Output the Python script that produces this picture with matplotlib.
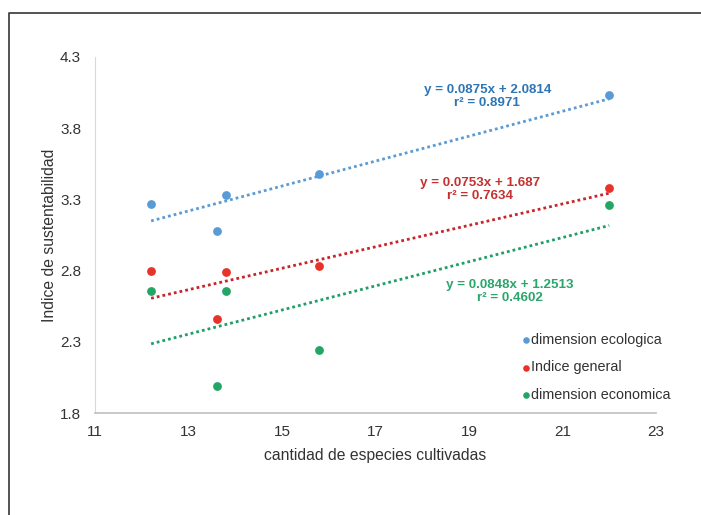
import matplotlib

matplotlib.use("Agg")
import matplotlib.pyplot as plt
from matplotlib.lines import Line2D

plt.rcParams["font.family"] = ["Liberation Sans", "DejaVu Sans"]

# data
especies = [12.2, 13.6, 13.8, 15.8, 22.0]
dim_ecologica = [3.27, 3.08, 3.33, 3.48, 4.03]
indice_general = [2.80, 2.46, 2.79, 2.83, 3.38]
dim_economica = [2.66, 1.99, 2.66, 2.24, 3.26]

series_names = ["dimension ecologica", "Indice general", "dimension economica"]
pendientes = [0.0875, 0.0753, 0.0848]
intercepts = [2.0814, 1.687, 1.2513]
r2_values = ["0.8971", "0.7634", "0.4602"]
eq_labels = ["y = 0.0875x + 2.0814", "y = 0.0753x + 1.687", "y = 0.0848x + 1.2513"]
eq_pos = [(19.39, 4.02), (19.24, 3.367), (19.88, 2.652)]

x_ticks = [11, 13, 15, 17, 19, 21, 23]
y_ticks = [1.8, 2.3, 2.8, 3.3, 3.8, 4.3]

marker_colors = ["#5b9bd5", "#e8332a", "#22a565"]
line_colors = ["#5b9bd5", "#c8252a", "#1f9e68"]
text_colors = ["#2e75b6", "#c53030", "#2ba56b"]

fig = plt.figure(figsize=(7.01, 5.15), dpi=100, facecolor="white")
ax = fig.add_axes([95 / 701, 1 - 413 / 515, (656 - 95) / 701, (413 - 57) / 515])

all_y = [dim_ecologica, indice_general, dim_economica]
x0, x1 = min(especies), max(especies)
for ys, name, m, b, mc, lc in zip(all_y, series_names, pendientes, intercepts,
                                  marker_colors, line_colors):
    ax.plot([x0, x1], [m * x0 + b, m * x1 + b], color=lc, lw=2.0,
            linestyle=(0, (1, 1.1)), zorder=2)
    ax.scatter(especies, ys, s=40, color=mc, linewidths=0, zorder=3, label=name)

for (tx, ty), eq, r2, tc in zip(eq_pos, eq_labels, r2_values, text_colors):
    ax.text(tx, ty, f"{eq}\nr² = {r2}", ha="center", va="center", color=tc,
            fontsize=9.6, fontweight="bold", linespacing=1.1)

ax.set_xlim(11, 23)
ax.set_ylim(1.8, 4.3)
ax.set_xticks(x_ticks)
ax.set_yticks(y_ticks)
ax.set_yticklabels([f"{v:.1f}" for v in y_ticks])
ax.tick_params(length=0, labelsize=11, colors="#333333", pad=10)
ax.tick_params(axis="x", pad=9)
for side in ("top", "right"):
    ax.spines[side].set_visible(False)
ax.spines["left"].set_color("#d9d9d9")
ax.spines["bottom"].set_color("#bfbfbf")
ax.spines["bottom"].set_linewidth(1.2)

ax.set_xlabel("cantidad de especies cultivadas", fontsize=11.3, color="#333333",
              labelpad=6)
ax.set_ylabel("Indice de sustentabilidad", fontsize=11.3, color="#333333",
              labelpad=2)

ax.legend(loc="upper left", bbox_to_anchor=(0.75, 0.242), frameon=False,
          fontsize=10.4, handletextpad=0.05, handlelength=0.6, labelspacing=0.95,
          markerscale=0.75, borderaxespad=0, labelcolor="#333333")

# outer frame of the figure image
fig.add_artist(Line2D([9 / 701, 9 / 701, 1], [0, 1 - 13 / 515, 1 - 13 / 515],
                      transform=fig.transFigure, color="#444444", lw=1.3))

fig.savefig("out.png", dpi=100, facecolor="white")
